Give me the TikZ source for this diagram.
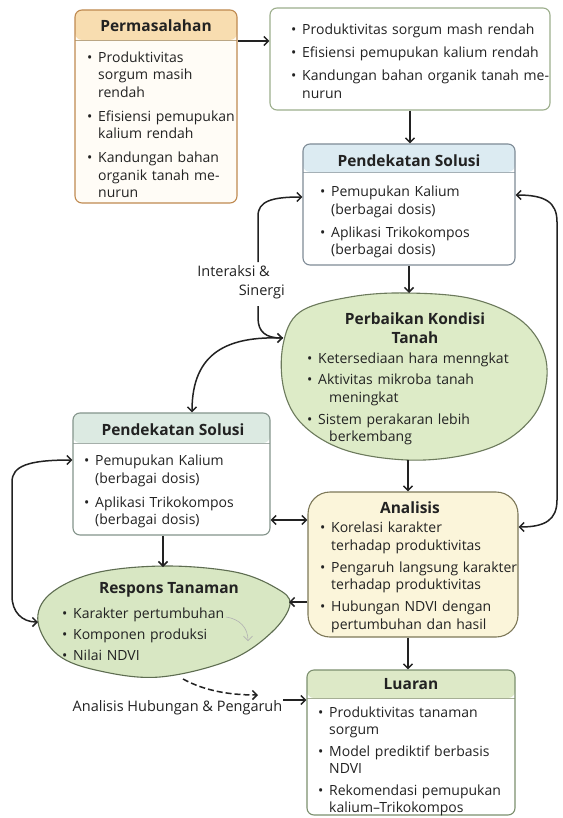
\documentclass[tikz,border=0pt]{standalone}
\usepackage{fontspec}
\setmainfont{Open Sans}
\usetikzlibrary{positioning, arrows, arrows.meta}

\definecolor{ink}{HTML}{222222}
\definecolor{permhead}{HTML}{F8DDB0}
\definecolor{permline}{HTML}{BF8A50}
\definecolor{permbody}{HTML}{FFFCF6}
\definecolor{topline}{HTML}{9CAE8C}
\definecolor{solhead}{HTML}{DCEBF2}
\definecolor{solline}{HTML}{7E8B96}
\definecolor{soilfill}{HTML}{DDEBC7}
\definecolor{soilline}{HTML}{6C7A5C}
\definecolor{soltwohead}{HTML}{DCEAE2}
\definecolor{soltwoline}{HTML}{84948B}
\definecolor{anafill}{HTML}{FBF5DA}
\definecolor{analine}{HTML}{7D7858}
\definecolor{respfill}{HTML}{D8E7C3}
\definecolor{respline}{HTML}{5E6D51}
\definecolor{luahead}{HTML}{DDE9C7}
\definecolor{lualine}{HTML}{7C8F6E}

\newcommand{\blt}[1]{\par\noindent\makebox[11pt][l]{\textbullet}\begin{tabular}[t]{@{}l@{}}#1\end{tabular}\par}

\begin{document}
\begin{tikzpicture}[x=1pt, y=-1pt, line join=round, >={Straight Barb[length=4.5pt, width=9pt]},
  box/.style={draw, rounded corners=7pt, line width=1.1pt, inner sep=0pt, fill=white},
  head/.style 2 args={path picture={\fill[#1] (path picture bounding box.north west) rectangle ([yshift=-#2]path picture bounding box.north east);
    \draw[#1!75!black, line width=.5pt] ([yshift=-#2]path picture bounding box.north west) -- ([yshift=-#2]path picture bounding box.north east);}},
  title/.style={font=\fontsize{15.5}{19}\selectfont\bfseries, text=ink, inner sep=0pt, align=center},
  items/.style={font=\fontsize{14}{17.5}\selectfont, text=ink, inner sep=0pt, anchor=north west, execute at begin node={\setlength{\parskip}{#1}}},
  note/.style={font=\fontsize{14.5}{19}\selectfont, text=ink, inner sep=1pt},
  blob/.style={line width=1.1pt},
  arr/.style={->, line width=1.5pt, draw=ink},
  arrtwo/.style={<->, line width=1.5pt, draw=ink}]
  \fill[white] (0,0) rectangle (562,818);
  \path[use as bounding box] (0,0) rectangle (562,818);

  % boxes
  \node[box, draw=permline, fill=permbody, head={permhead}{30pt}, minimum width=162pt, minimum height=193pt] (perm) at (156,106.5) {};
  \node[title, anchor=base] (permT) at (156,32) {Permasalahan};
  \node[items=5.5pt, text width=145pt] (permL) at (87,39) {\blt{Produktivitas\\sorgum masih\\rendah}\blt{Efisiensi pemupukan\\kalium rendah}\blt{Kandungan bahan\\organik tanah me-\\nurun}};

  \node[box, draw=topline, minimum width=280pt, minimum height=102pt] (topbox) at (410,59) {};
  \node[items=5.5pt, text width=250pt] (topL) at (291,11.6) {\blt{Produktivitas sorgum mash rendah}\blt{Efisiensi pemupukan kalium rendah}\blt{Kandungan bahan organik tanah me-\\nurun}};

  \node[box, draw=solline, head={solhead}{28pt}, minimum width=212pt, minimum height=121pt] (ps1) at (409,204.5) {};
  \node[title, anchor=base] (ps1T) at (409,166.5) {Pendekatan Solusi};
  \node[items=4.5pt, text width=185pt] (ps1L) at (320,174.6) {\blt{Pemupukan Kalium\\(berbagai dosis)}\blt{Aplikasi Trikokompos\\(berbagai dosis)}};

  \draw[blob, draw=soilline, fill=soilfill] plot[smooth cycle, tension=0.6] coordinates {(283,345) (300,312) (350,297) (407,293) (473,299) (523,322) (546,360) (540,405) (510,438) (465,455) (407,460) (345,450) (303,425) (284,390)};
  \node[title] (soilT) at (415,328) {Perbaikan Kondisi\\Tanah};
  \node[items=3.5pt, text width=215pt] (soilL) at (307,342.6) {\blt{Ketersediaan hara menngkat}\blt{Aktivitas mikroba tanah\\\hspace*{11pt}meningkat}\blt{Sistem perakaran lebih\\\hspace*{11pt}berkembang}};

  \node[box, draw=soltwoline, head={soltwohead}{30pt}, minimum width=197pt, minimum height=122pt] (ps2) at (171.5,474) {};
  \node[title, anchor=base] (ps2T) at (173,435.5) {Pendekatan Solusi};
  \node[items=5.5pt, text width=180pt] (ps2L) at (84,442.6) {\blt{Pemupukan Kalium\\(berbagai dosis)}\blt{Aplikasi Trikokompos\\(berbagai dosis)}};

  \node[box, rounded corners=22pt, draw=analine, fill=anafill, minimum width=210pt, minimum height=145pt] (ana) at (413,564.5) {};
  \node[title, anchor=base] (anaT) at (410,513.5) {Analisis};
  \node[items=3.5pt, text width=196pt] (anaL) at (320,511.6) {\blt{Korelasi karakter\\terhadap produktivitas}\blt{Pengaruh langsung karakter\\terhadap produktivitas}\blt{Hubungan NDVI dengan\\pertumbuhan dan hasil}};

  \draw[blob, draw=respline, fill=respfill] plot[smooth cycle, tension=0.6] coordinates {(38,622) (50,594) (95,573) (165,566) (235,572) (276,588) (290,604) (272,632) (230,660) (160,677) (100,671) (58,655)};
  \node[title, anchor=base] (respT) at (169,593.5) {Respons Tanaman};
  \node[items=3.5pt, text width=200pt] (respL) at (62,597.6) {\blt{Karakter pertumbuhan}\blt{Komponen produksi}\blt{Nilai NDVI}};

  \node[box, draw=lualine, head={luahead}{28pt}, minimum width=208pt, minimum height=145pt] (lua) at (411,742.5) {};
  \node[title, anchor=base] (luaT) at (411,689) {Luaran};
  \node[items=3pt, text width=190pt] (luaL) at (318,696.6) {\blt{Produktivitas tanaman\\sorgum}\blt{Model prediktif berbasis\\NDVI}\blt{Rekomendasi pemupukan\\kalium--Trikokompos}};

  % labels
  \node[note, anchor=north east, align=right] (syn) at (286,264) {Interaksi \&\hspace*{15pt}\\Sinergi};
  \node[note] (hub) at (177.5,708) {Analisis Hubungan \& Pengaruh};

  % points on the blobs
  \coordinate (soilN) at (408,293);
  \coordinate (soilS) at (408,460);
  \coordinate (soilW) at (283,338);
  \coordinate (respN) at (163,567);
  \coordinate (respE) at (289,602);
  \coordinate (respW) at (38,622);
  \coordinate (respS) at (183,679);
  \coordinate (synT) at (258,262);
  \coordinate (synB) at (258,306);
  \coordinate (dashE) at (258,695);
  \coordinate (curlA) at (226,617);
  \coordinate (curlB) at (248,641);

  % arrows
  \draw[arr] (perm.east |- 0,41) -- (topbox.west |- 0,41);
  \draw[arr] (topbox.south) -- (topbox.south |- ps1.north);
  \draw[arr] (ps1.south) -- (ps1.south |- soilN);
  \draw[arr] (synT) -- (258,216) .. controls (258,201) and (272,197) .. (ps1.west |- 0,197);
  \draw[arr] (synB) -- (258,318) .. controls (258,332) and (266,338) .. (soilW);
  \draw[arr] (soilW) .. controls (228,336) and (192,352) .. (ps2.north -| 192,0);
  \draw[arrtwo] (ana.east |- 0,527) .. controls (545,527) and (557,520) .. (557,500) -- (557,222) .. controls (557,202) and (545,195) .. (ps1.east |- 0,195);
  \draw[arrtwo] (respW) .. controls (22,622) and (12,612) .. (12,596) -- (12,482) .. controls (12,466) and (28,460) .. (ps2.west |- 0,460);
  \draw[arrtwo] (ps2.east |- 0,520) -- (ana.west |- 0,520);
  \draw[arr] (ps2.south -| respN) -- (respN);
  \draw[arr] (soilS) -- (soilS |- ana.north);
  \draw[arr] (ana.west |- 0,602) -- (respE);
  \draw[arr] (ana.south -| soilS) -- (lua.north -| soilS);
  \draw[arr, dash pattern=on 6pt off 3pt] (respS) .. controls (205,691) and (230,695) .. (dashE);
  \draw[arr] (hub.east |- 0,700) -- (lua.west |- 0,700);
  \draw[gray!60, line width=.6pt, ->] (curlA) .. controls (240,619) and (248,628) .. (curlB);
\end{tikzpicture}
\end{document}
